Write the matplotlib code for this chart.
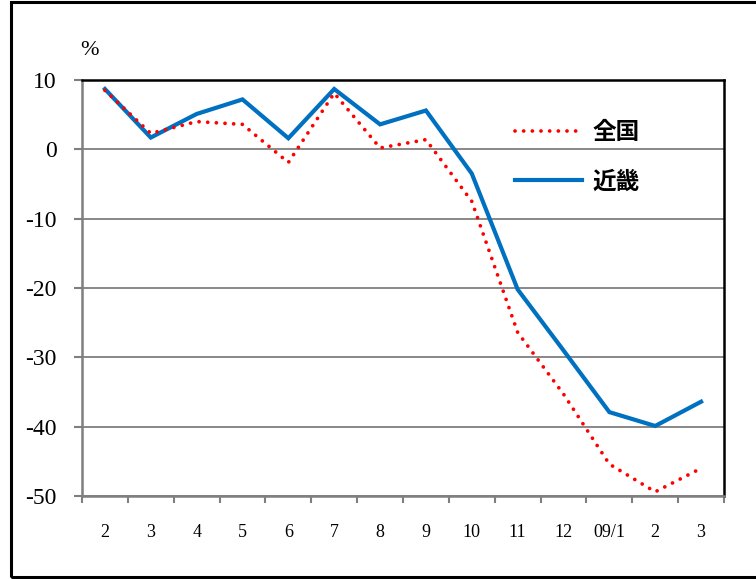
import matplotlib
matplotlib.use("Agg")
import matplotlib.pyplot as plt
from matplotlib.patches import Rectangle
import numpy as np

months = ["2", "3", "4", "5", "6", "7", "8", "9", "10", "11", "12", "09/1", "2", "3"]
zenkoku = [8.5, 2.3, 4.0, 3.6, -1.9, 8.1, 0.2, 1.4, -7.5, -26.4, -35.3, -45.4, -49.4, -46.0]
kinki = [8.7, 1.7, 5.1, 7.2, 1.6, 8.7, 3.6, 5.6, -3.5, -20.2, -29.0, -37.9, -39.9, -36.4]
series_names = ["全国", "近畿"]
yticks = [10, 0, -10, -20, -30, -40, -50]

W, H = 756, 579
fig = plt.figure(figsize=(W / 100, H / 100), dpi=100)
fig.patch.set_facecolor("white")

# outer frame (open on the right side)
fig.patches.append(Rectangle((10.5 / W, 2 / H), 1.2, (H - 4) / H, transform=fig.transFigure,
                             fill=False, edgecolor="black", linewidth=2.2, zorder=0))

ax = fig.add_axes([82 / W, (H - 496) / H, 642 / W, 416 / H])
x = np.arange(len(months))

gray = "#7f7f7f"
ax.set_ylim(-50, 10)
ax.set_xlim(-0.5, len(months) - 0.5)
ax.set_yticks(yticks)
ax.set_yticklabels([str(v) for v in yticks], fontfamily="Liberation Serif", fontsize=17)
ax.yaxis.grid(True, color=gray, linewidth=1.3)
ax.set_axisbelow(True)

ax.set_xticks(x)
ax.set_xticklabels(months, fontfamily="Liberation Serif", fontsize=13)
ax.set_xticks(np.arange(len(months) + 1) - 0.5, minor=True)
ax.tick_params(axis="x", which="major", length=0, pad=20)
ax.tick_params(axis="x", which="minor", length=5, width=1.5, color=gray, direction="out")
ax.tick_params(axis="y", length=6, width=1.5, color=gray, direction="out", pad=12)

for side in ("left", "bottom"):
    ax.spines[side].set_color(gray)
    ax.spines[side].set_linewidth(1.8)
for side in ("top", "right"):
    ax.spines[side].set_color("black")
    ax.spines[side].set_linewidth(1.8)

ax.plot(x, zenkoku, color="#ff0000", linewidth=2.7, linestyle=(0, (0.01, 2.3)),
        dash_capstyle="round", label=series_names[0], zorder=3)
ax.plot(x, kinki, color="#0070c0", linewidth=3.0, label=series_names[1],
        solid_joinstyle="miter", zorder=2)

leg = ax.legend(loc="upper left", bbox_to_anchor=(0.6745, 0.904), frameon=False,
                prop={"family": ["Noto Sans CJK JP", "DejaVu Sans"], "weight": "bold", "size": 17},
                handlelength=2.85, handletextpad=0.42, labelspacing=1.08, borderpad=0, borderaxespad=0)

ax.text(-0.003, 1.072, "%", transform=ax.transAxes, fontfamily="Liberation Serif",
        fontsize=16, ha="left", va="center")

fig.savefig("out.png", dpi=100, facecolor="white")
